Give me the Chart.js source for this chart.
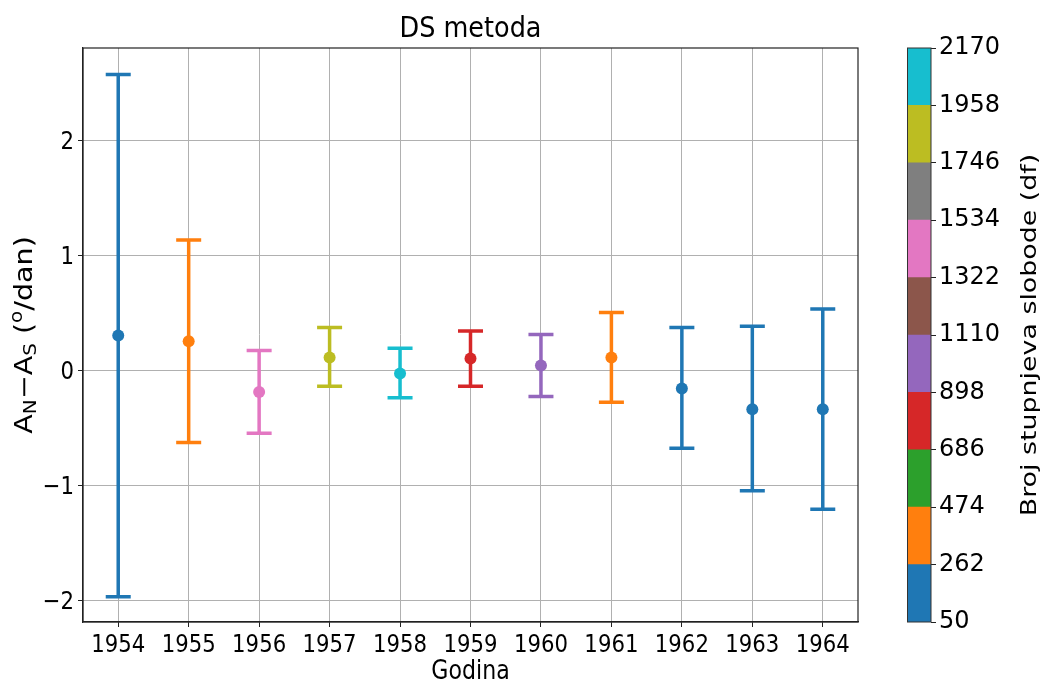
<!DOCTYPE html>
<html>
<head>
<meta charset="utf-8">
<script src="https://cdn.jsdelivr.net/npm/chart.js@4.4.1/dist/chart.umd.min.js"></script>
<style>
  html, body { margin: 0; padding: 0; background: #fff; }
  #wrap { position: relative; width: 1044px; height: 688px; }
  #wrap canvas { position: absolute; left: 0; top: 0; }
</style>
</head>
<body>
<div id="wrap">
  <canvas id="main" width="1044" height="688"></canvas>
  <canvas id="cbar" width="1044" height="688"></canvas>
</div>
<script>
// ---- data ----
const years   = [1954, 1955, 1956, 1957, 1958, 1959, 1960, 1961, 1962, 1963, 1964];
const means   = [0.30, 0.25, -0.19, 0.11, -0.03, 0.10, 0.04, 0.11, -0.16, -0.34, -0.34];
const upper   = [2.57, 1.13, 0.17, 0.37, 0.19, 0.34, 0.31, 0.50, 0.37, 0.38, 0.53];
const lower   = [-1.97, -0.63, -0.55, -0.14, -0.24, -0.14, -0.23, -0.28, -0.68, -1.05, -1.21];
// degrees of freedom (only the colour bin is readable, values are estimates)
const dfValues = [156, 368, 1428, 1852, 2064, 792, 1004, 368, 156, 156, 156];
const dfBounds = [50, 262, 474, 686, 898, 1110, 1322, 1534, 1746, 1958, 2170];
const yTicks  = [-2, -1, 0, 1, 2];

const TAB10 = ["#1f77b4","#ff7f0e","#2ca02c","#d62728","#9467bd",
               "#8c564b","#e377c2","#7f7f7f","#bcbd22","#17becf"];

const dfColor = (df) => {
  for (let i = 0; i < dfBounds.length - 1; i++) {
    if (df >= dfBounds[i] && df < dfBounds[i + 1]) return TAB10[i];
  }
  return TAB10[TAB10.length - 1];
};
const colors = dfValues.map(dfColor);

const FONT = "'DejaVu Sans', sans-serif";
const SX = 0.85; // horizontal squeeze of the source figure

const drawText = (ctx, text, x, y, size, align, sx) => {
  ctx.save();
  ctx.translate(x, y);
  ctx.scale(sx, 1);
  ctx.font = size + "px " + FONT;
  ctx.textAlign = align;
  ctx.textBaseline = "alphabetic";
  ctx.fillStyle = "#000";
  ctx.fillText(text, 0, 0);
  ctx.restore();
};

// ---- error bars + frame + texts ----
const errorBars = {
  id: "errorBars",
  beforeDatasetsDraw(chart) {
    const { ctx, scales: { x, y } } = chart;
    ctx.save();
    ctx.lineWidth = 3.5;
    years.forEach((yr, i) => {
      const px = x.getPixelForValue(yr);
      const top = y.getPixelForValue(upper[i]);
      const bot = y.getPixelForValue(lower[i]);
      ctx.strokeStyle = colors[i];
      ctx.beginPath();
      ctx.moveTo(px, top); ctx.lineTo(px, bot);
      ctx.moveTo(px - 12.5, top); ctx.lineTo(px + 12.5, top);
      ctx.moveTo(px - 12.5, bot); ctx.lineTo(px + 12.5, bot);
      ctx.stroke();
    });
    ctx.restore();
  },
  afterDraw(chart) {
    const { ctx, chartArea: a, scales: { x, y } } = chart;
    ctx.save();
    ctx.strokeStyle = "#222";
    ctx.lineWidth = 1.2;
    ctx.strokeRect(a.left, a.top, a.right - a.left, a.bottom - a.top);
    ctx.restore();

    years.forEach(yr => drawText(ctx, String(yr), x.getPixelForValue(yr), 652, 25, "center", SX));
    yTicks.forEach(v => {
      const lbl = v < 0 ? "\u2212" + Math.abs(v) : String(v);
      drawText(ctx, lbl, 74, y.getPixelForValue(v) + 9, 25, "right", SX);
    });
    drawText(ctx, "DS metoda", (a.left + a.right) / 2, 37, 29, "center", 0.88);
    drawText(ctx, "Godina", (a.left + a.right) / 2, 679, 26, "center", SX);

    // y label with sub/superscripts, rotated
    const size = 24;
    const parts = [
      { t: "A", s: 1, dy: 0 }, { t: "N", s: 0.7, dy: 0.18 }, { t: "\u2212", s: 1, dy: 0 },
      { t: "A", s: 1, dy: 0 }, { t: "S", s: 0.7, dy: 0.18 }, { t: " (", s: 1, dy: 0 },
      { t: "o", s: 0.7, dy: -0.42 }, { t: "/dan)", s: 1, dy: 0 }
    ];
    ctx.save();
    ctx.translate(32, (a.top + a.bottom) / 2);
    ctx.rotate(-Math.PI / 2);
    ctx.scale(1.19, 1);
    ctx.fillStyle = "#000";
    ctx.textBaseline = "alphabetic";
    let total = 0;
    parts.forEach(p => { ctx.font = (size * p.s) + "px " + FONT; p.w = ctx.measureText(p.t).width; total += p.w; });
    let cx = -total / 2;
    parts.forEach(p => {
      ctx.font = (size * p.s) + "px " + FONT;
      ctx.fillText(p.t, cx, p.dy * size);
      cx += p.w;
    });
    ctx.restore();
  }
};

new Chart(document.getElementById("main"), {
  type: "scatter",
  data: {
    datasets: [{
      data: years.map((yr, i) => ({ x: yr, y: means[i] })),
      pointBackgroundColor: colors,
      pointBorderWidth: 0,
      pointRadius: 6,
      showLine: false
    }]
  },
  options: {
    responsive: false,
    animation: false,
    events: [],
    layout: { padding: { left: 0, top: 48, right: 186, bottom: 0 } },
    plugins: { legend: { display: false }, tooltip: { enabled: false } },
    scales: {
      x: {
        type: "linear", min: 1953.5, max: 1964.5,
        afterBuildTicks: (s) => { s.ticks = years.map(v => ({ value: v })); },
        afterFit: (s) => { s.height = 66; },
        ticks: { display: false },
        grid: { color: "#b0b0b0", lineWidth: 1, tickColor: "#222", tickLength: 5 },
        border: { color: "#222", width: 1.2 }
      },
      y: {
        type: "linear", min: -2.19, max: 2.80,
        afterBuildTicks: (s) => { s.ticks = yTicks.map(v => ({ value: v })); },
        afterFit: (s) => { s.width = 83; },
        ticks: { display: false },
        grid: { color: "#b0b0b0", lineWidth: 1, tickColor: "#222", tickLength: 5 },
        border: { color: "#222", width: 1.2 }
      }
    }
  },
  plugins: [errorBars]
});

// ---- colour bar ----
const cbarFrame = {
  id: "cbarFrame",
  afterDraw(chart) {
    const { ctx, chartArea: a } = chart;
    ctx.save();
    ctx.strokeStyle = "#333";
    ctx.lineWidth = 1;
    ctx.strokeRect(a.left + 0.5, a.top, a.right - a.left - 0.5, a.bottom - a.top);
    ctx.translate(1036, (a.top + a.bottom) / 2);
    ctx.rotate(-Math.PI / 2);
    ctx.scale(1.22, 1);
    ctx.font = "22px " + FONT;
    ctx.fillStyle = "#000";
    ctx.textAlign = "center";
    ctx.fillText("Broj stupnjeva slobode (df)", 0, 0);
    ctx.restore();
  }
};

new Chart(document.getElementById("cbar"), {
  type: "bar",
  data: {
    labels: [""],
    datasets: dfBounds.slice(0, -1).map((lo, i) => ({
      data: [[lo, dfBounds[i + 1]]],
      backgroundColor: TAB10[i],
      borderWidth: 0,
      barPercentage: 1,
      categoryPercentage: 1,
      grouped: false
    }))
  },
  options: {
    responsive: false,
    animation: false,
    events: [],
    layout: { padding: { left: 907, top: 48, right: 0, bottom: 66 } },
    plugins: { legend: { display: false }, tooltip: { enabled: false } },
    scales: {
      x: { display: false },
      y: {
        position: "right", min: 50, max: 2170,
        afterBuildTicks: (s) => { s.ticks = dfBounds.map(v => ({ value: v })); },
        afterFit: (s) => { s.width = 113; },
        ticks: { color: "#000", font: { family: FONT, size: 24 }, padding: 3, callback: (v) => String(v) },
        grid: { drawOnChartArea: false, tickColor: "#222", tickLength: 5 },
        border: { display: false }
      }
    }
  },
  plugins: [cbarFrame]
});
</script>
</body>
</html>
